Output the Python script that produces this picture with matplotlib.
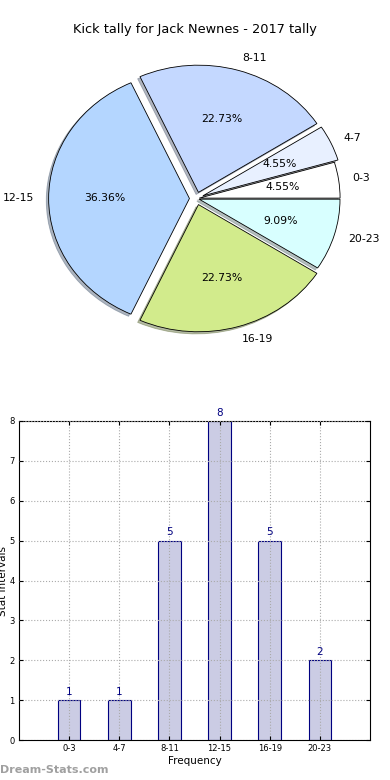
import numpy as np
import matplotlib
matplotlib.use("Agg")
import matplotlib.pyplot as plt

# ---------------------------------------------
# Data
# ---------------------------------------------
intervals = ["0-3", "4-7", "8-11", "12-15", "16-19", "20-23"]
counts = [1, 1, 5, 8, 5, 2]
pie_colors = ["#ffffff", "#e8f0ff", "#c4d8ff", "#b4d6ff", "#d2eb8c", "#d8ffff"]
explode = [0.02, 0.05, 0.05, 0.05, 0.05, 0.02]

title = "Kick tally for Jack Newnes - 2017 tally"

fig = plt.figure(figsize=(3.9, 7.8), dpi=100)

# ---------------------------------------------
# Pie chart (old style: not forced round)
# ---------------------------------------------
ax1 = fig.add_axes([0.0525, 0.5417, 0.9026, 0.4077])
wedges, texts, autotexts = ax1.pie(
    counts, labels=intervals, colors=pie_colors, explode=explode,
    autopct="%1.2f%%", startangle=0, counterclock=True,
    shadow={"ox": -0.012, "oy": -0.012, "shade": 0.5},
    wedgeprops={"edgecolor": "black", "linewidth": 0.6},
    textprops={"fontsize": 7.8})
ax1.set_aspect("auto")
fig.text(0.5, 1 - 30 / 780, title, ha="center", va="center", fontsize=9.3)

# ---------------------------------------------
# Bar chart
# ---------------------------------------------
ax2 = fig.add_axes([19 / 390, 40 / 780, 351 / 390, 319 / 780])
x = np.arange(len(intervals))
ax2.bar(x, counts, width=0.45, color="#cbcce4",
        edgecolor="#000080", linewidth=0.8, zorder=1)
for xi, c in zip(x, counts):
    ax2.text(xi, c + 0.08, str(c), ha="center", va="bottom", color="#000080", fontsize=7.5)

ax2.set_xlim(-1, 6)
ax2.set_ylim(0, 8)
ax2.set_xticks(x)
ax2.set_xticklabels(intervals)
ax2.set_yticks(range(0, 9))
ax2.tick_params(direction="in", top=True, right=True, labelsize=6, length=3, pad=3)
ax2.grid(True, linestyle=":", color="#aaaaaa", linewidth=0.8, zorder=2)
ax2.set_axisbelow(False)
ax2.set_xlabel("Frequency", fontsize=7.5, labelpad=2)
ax2.set_ylabel("Stat Intervals", fontsize=7.5, labelpad=1)

fig.text(0.0, 1 - 770 / 780, "Dream-Stats.com", ha="left", va="center",
         color="#a0a0a0", fontsize=8, fontweight="bold")

fig.savefig("out.png", dpi=100)
